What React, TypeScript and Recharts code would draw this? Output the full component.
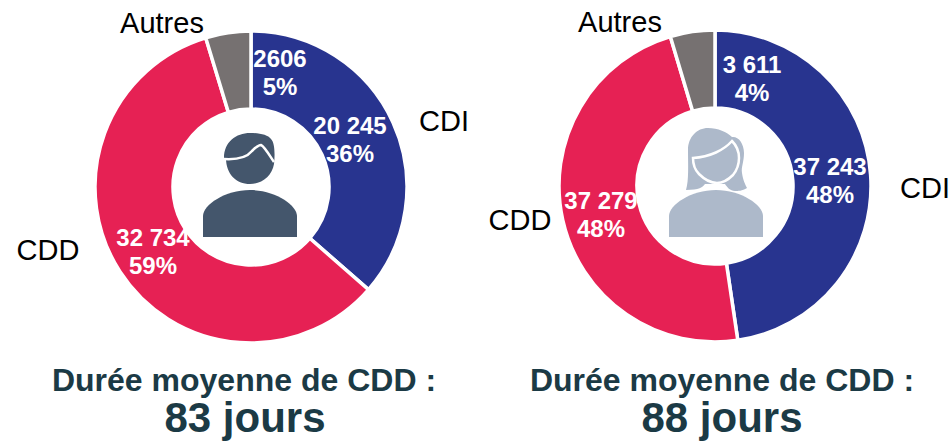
import { PieChart, Pie, Cell } from 'recharts';

const categories = ['CDI', 'CDD', 'Autres'];
const hommesValues = [20245, 32734, 2606];
const femmesValues = [37243, 37279, 3611];
const hommesCounts = ['20 245', '32 734', '2606'];
const femmesCounts = ['37 243', '37 279', '3 611'];
const hommesShares = ['36%', '59%', '5%'];
const femmesShares = ['48%', '48%', '4%'];
const hommesDuree = '83 jours';
const femmesDuree = '88 jours';

const COLORS = ['#28348f', '#e62154', '#767171'];
const FONT = '"Liberation Sans", Arial, sans-serif';
const TITLE_COLOR = '#1b3a45';

// where PowerPoint left the labels: [value x, value baseline, name x, name baseline]
const HOMMES_POS = [
  [350, 134, 444, 131],
  [153, 246, 48, 260],
  [280, 67, 162, 33],
];
const FEMMES_POS = [
  [830, 175, 925, 198],
  [601, 209, 520, 230],
  [752, 73, 620, 32],
];

function makeLabel(pos: number[][], counts: string[], shares: string[]) {
  return (props: any) => {
    const i = props.index;
    const [x, y, nameX, nameY] = pos[i];
    return (
      <g fontFamily={FONT} textAnchor="middle">
        <text x={x} y={y} fill="#fff" fontSize={24} fontWeight="bold">{counts[i]}</text>
        <text x={x} y={y + 28} fill="#fff" fontSize={24} fontWeight="bold">{shares[i]}</text>
        <text x={nameX} y={nameY} fill="#000" fontSize={29}>{categories[i]}</text>
      </g>
    );
  };
}

const toRows = (values: number[]) => categories.map((name, i) => ({ name, value: values[i] }));

function Homme() {
  const c = '#44566c';
  return (
    <g>
      <path d="M203 237V216C203 205 225 190 250 190C275 190 297 205 297 216V237Z" fill={c} />
      <path d="M224 158C224 142 236 133 250 133C260 133 268 135 271 139C275 143 275 155 274 164C272 176 262 184 250 184C236 184 226 174 226 158Z" fill={c} />
      <path d="M224 159C240 160 248 156 252 151C256 147 259 145 261 145C264 146 270 156 274 162" fill="none" stroke="#fff" strokeWidth={2.5} />
    </g>
  );
}

function Femme() {
  const c = '#adb9ca';
  return (
    <g>
      <path d="M669 237V216C669 205 691 190 716 190C741 190 763 205 763 216V237Z" fill={c} />
      <path d="M686 190C689 180 688 165 688 150C688 137 697 128 708 128C718 128 727 132 732 137C738 136 744 143 744 153C744 162 741 167 742 173C743 180 745 184 747 188C742 191 738 191 735 191C730 191 727 187 725 184H705C703 187 699 190 686 190Z" fill={c} />
      <path d="M693 158C710 157 724 150 732 141C737 146 739 152 739 158C739 166 737 170 733 175C728 180 722 183 717 183C711 183 704 179 699 174C695 170 693 164 693 158Z" fill={c} stroke="#fff" strokeWidth={2.5} />
    </g>
  );
}

export default function App() {
  return (
    <div style={{ position: 'absolute', left: 0, top: 0, width: 951, height: 441, overflow: 'hidden' }}>
      <PieChart width={951} height={441} margin={{ top: 0, right: 0, bottom: 0, left: 0 }}>
        <Pie
          data={toRows(hommesValues)}
          dataKey="value"
          cx={251}
          cy={187}
          innerRadius={78}
          outerRadius={156}
          startAngle={90}
          endAngle={-270}
          stroke="#fff"
          strokeWidth={3.5}
          labelLine={false}
          label={makeLabel(HOMMES_POS, hommesCounts, hommesShares)}
          isAnimationActive={false}
        >
          {categories.map((name, i) => <Cell key={name} fill={COLORS[i]} />)}
        </Pie>
        <Pie
          data={toRows(femmesValues)}
          dataKey="value"
          cx={715}
          cy={186}
          innerRadius={78}
          outerRadius={156}
          startAngle={90}
          endAngle={-270}
          stroke="#fff"
          strokeWidth={3.5}
          labelLine={false}
          label={makeLabel(FEMMES_POS, femmesCounts, femmesShares)}
          isAnimationActive={false}
        >
          {categories.map((name, i) => <Cell key={name} fill={COLORS[i]} />)}
        </Pie>
      </PieChart>
      <svg width={951} height={441} style={{ position: 'absolute', left: 0, top: 0 }}>
        <Homme />
        <Femme />
        <g fontFamily={FONT} fontWeight="bold" fill={TITLE_COLOR} textAnchor="middle">
          <text x={244} y={391} fontSize={32}>Durée moyenne de CDD :</text>
          <text x={245} y={432} fontSize={42}>{hommesDuree}</text>
          <text x={722} y={391} fontSize={32}>Durée moyenne de CDD :</text>
          <text x={722} y={432} fontSize={42}>{femmesDuree}</text>
        </g>
      </svg>
    </div>
  );
}
